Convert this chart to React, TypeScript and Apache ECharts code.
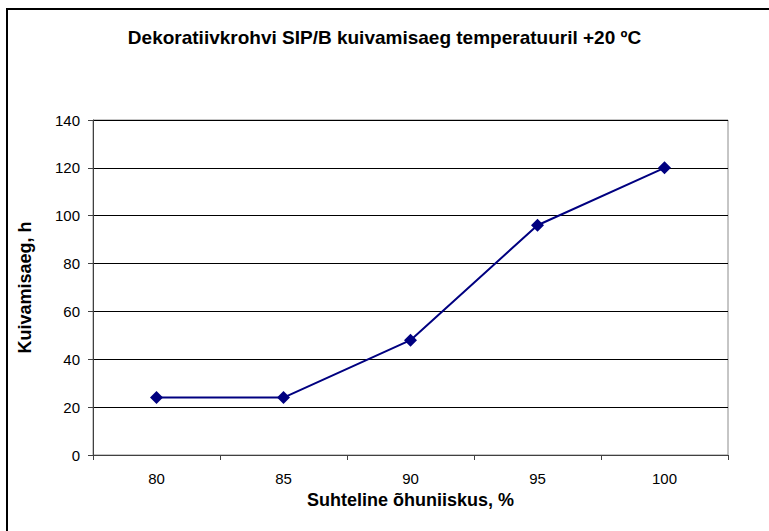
import React, { useEffect, useRef } from "react";
import * as echarts from "echarts";

const categories = ["80", "85", "90", "95", "100"];
const dryingHours = [24, 24, 48, 96, 120];
const titleText = "Dekoratiivkrohvi SIP/B kuivamisaeg temperatuuril +20 ºC";
const xTitle = "Suhteline õhuniiskus, %";
const yTitle = "Kuivamisaeg, h";

const FONT = "'Liberation Sans', Arial, sans-serif";

export default function App() {
  const ref = useRef<HTMLDivElement>(null);
  useEffect(() => {
    if (!ref.current) return;
    const chart = echarts.init(ref.current, undefined, { renderer: "svg" });
    chart.setOption({
      animation: false,
      backgroundColor: "#ffffff",
      title: {
        text: titleText,
        left: "center",
        top: 23,
        textStyle: { fontFamily: FONT, fontSize: 19, fontWeight: "bold", color: "#000" },
      },
      graphic: [
        {
          type: "rect",
          shape: { x: 7, y: 9, width: 800, height: 560 },
          style: { fill: "none", stroke: "#000", lineWidth: 2 },
          silent: true,
        },
      ],
      grid: {
        left: 93,
        right: 41,
        top: 120,
        bottom: 76,
        show: true,
        borderColor: "#8c8c8c",
        borderWidth: 1,
      },
      xAxis: {
        type: "category",
        data: categories,
        boundaryGap: true,
        name: xTitle,
        nameLocation: "middle",
        nameGap: 28,
        nameTextStyle: { fontFamily: FONT, fontSize: 18, fontWeight: "bold", color: "#000" },
        axisLine: { lineStyle: { color: "#404040", width: 1 } },
        axisTick: { show: true, length: 5, lineStyle: { color: "#404040" } },
        axisLabel: { fontFamily: FONT, fontSize: 15, color: "#000", margin: 16 },
        splitLine: { show: false },
      },
      yAxis: {
        type: "value",
        min: 0,
        max: 140,
        interval: 20,
        name: yTitle,
        nameLocation: "middle",
        nameGap: 59,
        nameTextStyle: { fontFamily: FONT, fontSize: 18, fontWeight: "bold", color: "#000" },
        axisLine: { show: true, lineStyle: { color: "#404040", width: 1 } },
        axisTick: { show: true, length: 5, lineStyle: { color: "#404040" } },
        axisLabel: { fontFamily: FONT, fontSize: 15, color: "#000", margin: 13 },
        splitLine: { show: true, lineStyle: { color: "#000", width: 1 } },
      },
      series: [
        {
          type: "line",
          data: dryingHours,
          symbol: "diamond",
          symbolSize: 13,
          itemStyle: { color: "#000080" },
          lineStyle: { color: "#000080", width: 2 },
        },
      ],
    });
    return () => chart.dispose();
  }, []);
  return (
    <div
      ref={ref}
      style={{ position: "fixed", left: 0, top: 0, width: 769, height: 531 }}
    />
  );
}
